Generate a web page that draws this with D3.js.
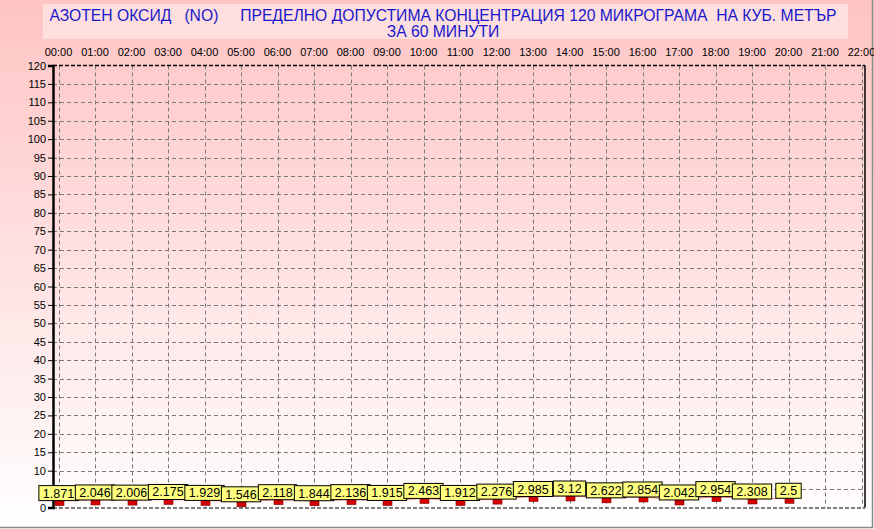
<!DOCTYPE html>
<html><head><meta charset="utf-8">
<script src="https://cdn.jsdelivr.net/npm/d3@7"></script>
<style>html,body{margin:0;padding:0;background:#fff;}svg{display:block;}</style>
</head><body>
<script>
const hours = ["00:00","01:00","02:00","03:00","04:00","05:00","06:00","07:00","08:00","09:00","10:00","11:00","12:00","13:00","14:00","15:00","16:00","17:00","18:00","19:00","20:00","21:00","22:00"];
const values = [1.871,2.046,2.006,2.175,1.929,1.546,2.118,1.844,2.136,1.915,2.463,1.912,2.276,2.985,3.12,2.622,2.854,2.042,2.954,2.308,2.5];
const yTicks = d3.range(0,121,5);
const titleLine1 = "АЗОТЕН ОКСИД   (NO)     ПРЕДЕЛНО ДОПУСТИМА КОНЦЕНТРАЦИЯ 120 МИКРОГРАМА  НА КУБ. МЕТЪР";
const titleLine2 = "ЗА 60 МИНУТИ";

const W=874,H=529;
const svg=d3.select("body").append("svg").attr("width",W).attr("height",H);
const defs=svg.append("defs");
const g1=defs.append("linearGradient").attr("id","bg").attr("x1",0).attr("y1",0).attr("x2",0).attr("y2",1);
g1.append("stop").attr("offset","0%").attr("stop-color","#ffc4c4");
g1.append("stop").attr("offset","100%").attr("stop-color","#ffffff");
svg.append("rect").attr("width",W).attr("height",H).attr("fill","url(#bg)");
svg.append("line").attr("x1",872.5).attr("x2",872.5).attr("y1",0).attr("y2",528).attr("stroke","#8a8a8a").attr("stroke-width",1.5);
svg.append("line").attr("x1",0).attr("x2",873).attr("y1",527.5).attr("y2",527.5).attr("stroke","#8a8a8a").attr("stroke-width",1.5);

// title
svg.append("rect").attr("x",43).attr("y",4).attr("width",805).attr("height",35).attr("fill","#ffdede");
const tt=svg.append("text").attr("font-family","Liberation Sans, Arial, sans-serif").attr("font-size",15.7).attr("fill","#1818cc").attr("text-anchor","middle").style("white-space","pre");
tt.append("tspan").attr("x",443).attr("y",21).text(titleLine1);
tt.append("tspan").attr("x",443).attr("y",37).text(titleLine2);

const x=d3.scaleLinear().domain([0,22]).range([58.5,861.5]);
const y=d3.scaleLinear().domain([0,120]).range([507.5,65.5]);
const L=53,R=865,T=65.5,B=507.5;

const grid=svg.append("g").attr("stroke","#7a7a7a").attr("stroke-dasharray","4,3").attr("stroke-width",1);
yTicks.filter(d=>d>0&&d<120).forEach(d=>grid.append("line").attr("x1",L).attr("x2",R).attr("y1",Math.round(y(d))+0.5).attr("y2",Math.round(y(d))+0.5));
hours.forEach((h,i)=>grid.append("line").attr("x1",Math.round(x(i))+0.5).attr("x2",Math.round(x(i))+0.5).attr("y1",T).attr("y2",B));

svg.append("line").attr("x1",L).attr("x2",R).attr("y1",T).attr("y2",T).attr("stroke","#000").attr("stroke-dasharray","4,2").attr("stroke-width",1.5);
svg.append("line").attr("x1",L).attr("x2",R).attr("y1",B+0.5).attr("y2",B+0.5).attr("stroke","#000").attr("stroke-dasharray","4,2").attr("stroke-width",1);
svg.append("line").attr("x1",R).attr("x2",R).attr("y1",T).attr("y2",B).attr("stroke","#000").attr("stroke-width",1.5);

// y axis (the "5" label is hidden behind the first value box in the reference)
const ya=svg.append("g").attr("transform",`translate(${L},0)`)
  .call(d3.axisLeft(y).tickValues(yTicks).tickSize(5).tickPadding(2).tickFormat(d=>d===5?"":d));
ya.select(".domain").attr("stroke","#000").attr("stroke-width",2.5);
ya.selectAll("text").attr("font-family","Liberation Sans, Arial, sans-serif").attr("font-size",11).attr("fill","#000");

svg.append("g").selectAll("text").data(hours).join("text")
 .attr("x",(d,i)=>x(i)).attr("y",56).attr("text-anchor","middle")
 .attr("font-family","Liberation Sans, Arial, sans-serif").attr("font-size",11).text(d=>d);

svg.append("path").datum(values).attr("fill","none").attr("stroke","#ff8080").attr("stroke-width",1)
 .attr("d",d3.line().x((d,i)=>x(i)).y(d=>y(d)));

svg.append("g").selectAll("rect").data(values).join("rect")
 .attr("x",(d,i)=>Math.round(x(i))-4).attr("y",d=>y(d)).attr("width",9).attr("height",5)
 .attr("fill","#d40000").attr("stroke","#800000").attr("stroke-width",0.6);

const lg=svg.append("g").selectAll("g").data(values).join("g");
lg.each(function(d,i){
  const g=d3.select(this);
  const t=g.append("text").attr("x",x(i)).attr("y",y(d)-3).attr("text-anchor","middle")
    .attr("font-family","Liberation Sans, Arial, sans-serif").attr("font-size",12.5).text(String(d));
  const w=t.node().getComputedTextLength();
  g.insert("rect","text").attr("x",x(i)-w/2-4).attr("y",y(d)-15).attr("width",w+8).attr("height",15)
    .attr("fill","#ffff80").attr("stroke","#000").attr("stroke-width",1);
});
</script>
</body></html>
